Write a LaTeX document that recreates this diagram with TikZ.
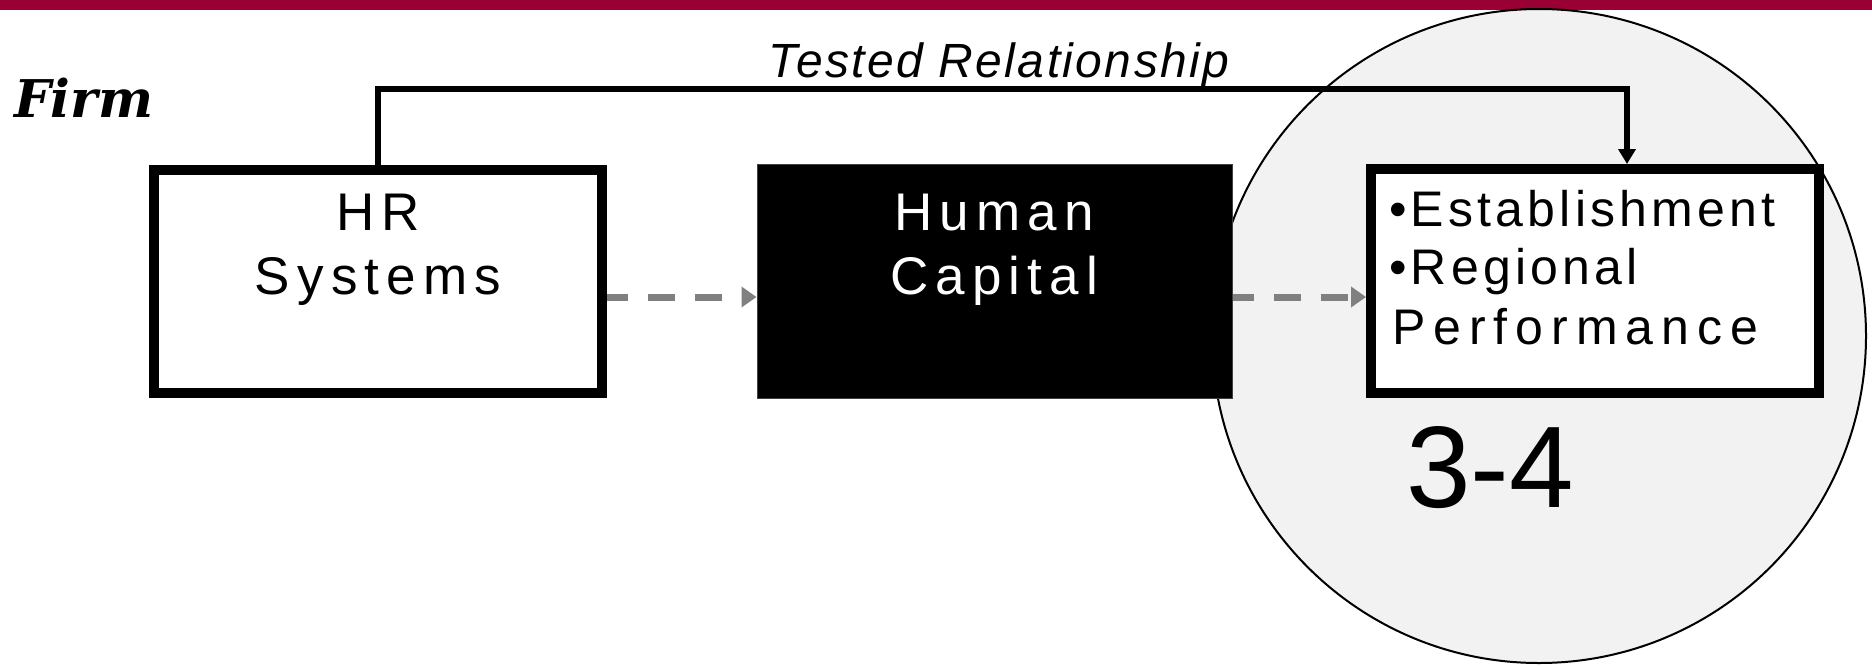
\documentclass[tikz,border=0pt]{standalone}
\usepackage{fontspec}
\setmainfont{Liberation Sans}
\newfontfamily\boxfont[LetterSpace=13.5]{Liberation Sans}
\newfontfamily\listfont[LetterSpace=8.5]{Liberation Sans}
\newfontfamily\perffont[LetterSpace=16]{Liberation Sans}
\newfontfamily\tagfont[LetterSpace=5]{Liberation Sans}
\newfontfamily\firmfont{DejaVu Serif}
\usetikzlibrary{arrows.meta,calc}

\definecolor{crimson}{HTML}{990033}
\definecolor{scopefill}{HTML}{F2F2F2}
\definecolor{linkgray}{HTML}{808080}

\tikzset{
  framebox/.style={draw=black, line width=10pt, fill=white, inner sep=0pt},
  darkbox/.style={draw=black!75, line width=1pt, fill=black, inner sep=0pt},
  txt/.style={inner sep=0pt, outer sep=0pt},
  boxtext/.style={txt, anchor=base, font=\boxfont\fontsize{53}{64}\selectfont},
  listtext/.style={txt, anchor=base west, font=\listfont\fontsize{50}{60}\selectfont},
  tested/.style={line width=6pt, -{Triangle[length=15pt,width=17pt]}},
  dasharrow/.style={draw=linkgray, line width=7pt, dash pattern=on 27pt off 20pt,
    dash phase=6pt, -{Triangle[length=15pt,width=20pt,fill=linkgray]}}
}

\begin{document}
\begin{tikzpicture}[x=1pt,y=-1pt]
\useasboundingbox (0,0) rectangle (1872,665);

% header rule
\fill[crimson] (0,0) rectangle (1872,10);

% shaded scope of the study
\node[circle, draw=black, line width=2pt, fill=scopefill, minimum size=654pt, inner sep=0pt]
  (scope) at (1539,336) {};

% the three constructs
\node[framebox, minimum width=448pt, minimum height=223pt] (hr) at (378,281.5) {};
\node[darkbox, minimum width=475pt, minimum height=234pt] (hc) at (994.5,281) {};
\node[framebox, minimum width=448pt, minimum height=224pt] (rb) at (1595,281) {};

% tested link from HR systems to performance
\coordinate (bend) at (1627,89);
\draw[tested] (hr.north) |- (bend) -- (bend |- rb.north);
\node[txt, anchor=base, font=\tagfont\itshape\fontsize{48}{56}\selectfont] (tag) at (999,77) {Tested Relationship};

% mediated (untested) links
\coordinate (mid) at (0,297);
\draw[dasharrow] (hr.east |- mid) -- (hc.west |- mid);
\draw[dasharrow] (hc.east |- mid) -- (rb.west |- mid);

% labels
\node[txt, anchor=base west, font=\firmfont\bfseries\itshape\fontsize{52}{60}\selectfont] (firm) at (14,117) {Firm};

\node[boxtext] (hrA) at (378,230) {HR};
\node[boxtext] (hrB) at (378,294) {Systems};
\node[boxtext, text=white] (hcA) at (994,230) {Human};
\node[boxtext, text=white] (hcB) at (994,294) {Capital};

\node[listtext] (rbA) at (1389,226) {•Establishment};
\node[listtext] (rbB) at (1389,284) {•Regional};
\node[listtext, font=\perffont\fontsize{50}{60}\selectfont] (rbC) at (1392,344) {Performance};

\node[txt, anchor=base west, font=\fontsize{116}{130}\selectfont] (level) at (1406,507) {3-4};
\end{tikzpicture}
\end{document}
